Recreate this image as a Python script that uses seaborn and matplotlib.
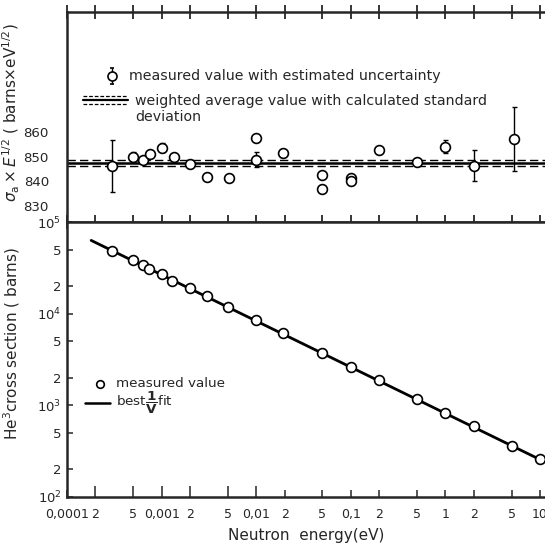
import numpy as np
import pandas as pd
import matplotlib
matplotlib.use("Agg")
import matplotlib.pyplot as plt
import seaborn as sns
from matplotlib.ticker import FixedLocator, FixedFormatter, NullLocator

# ---------------------------------------------------------------
# dati
# ---------------------------------------------------------------
# pannello alto: sigma_a * E^1/2 (barns x eV^1/2)
energia_alto = [3e-4, 5e-4, 6.4e-4, 7.6e-4, 1e-3, 1.35e-3, 2e-3, 3e-3, 5.2e-3,
                0.01, 0.01, 0.019, 0.05, 0.05, 0.1, 0.1, 0.2, 0.5, 1.0, 2.0, 5.3]
valore_alto = [846.3, 850.0, 848.7, 851.1, 853.7, 850.0, 847.3, 842.0, 841.5,
               857.5, 848.9, 851.4, 842.8, 837.1, 841.5, 840.0, 852.7, 848.0,
               854.1, 846.4, 857.4]
errore_alto = [10.5, 1.8, 0, 0, 1.8, 0, 0, 0, 0,
               0, 3.0, 0, 0, 1.2, 0, 1.0, 0, 1.0,
               2.6, 6.3, 13.0]

media_pesata = 847.5
dev_standard = 1.3

# pannello basso: sezione d'urto He3 (barns)
energia_basso = [3e-4, 5e-4, 6.3e-4, 7.4e-4, 1e-3, 1.3e-3, 2e-3, 3e-3, 5e-3,
                 0.01, 0.019, 0.05, 0.1, 0.2, 0.5, 1.0, 2.0, 5.0, 10.0]
sezione_basso = [48600, 38300, 34000, 30800, 27000, 23000, 19000, 15500, 11900,
                 8500, 6200, 3750, 2650, 1890, 1180, 830, 590, 360, 258]

# retta best 1/v fit (estremi)
energia_fit = [1.8e-4, 10.5]
sezione_fit = [63000, 250]

# etichette assi
tick_x_pos = [1e-4, 2e-4, 5e-4, 1e-3, 2e-3, 5e-3, 1e-2, 2e-2, 5e-2,
              0.1, 0.2, 0.5, 1, 2, 5, 10]
tick_x_lab = ["0,0001", "2", "5", "0,001", "2", "5", "0,01", "2", "5",
              "0,1", "2", "5", "1", "2", "5", "10"]
tick_y_alto = [830, 840, 850, 860]
tick_y_basso_pos = [1e2, 2e2, 5e2, 1e3, 2e3, 5e3, 1e4, 2e4, 5e4, 1e5]
tick_y_basso_lab = ["$10^2$", "2", "5", "$10^3$", "2", "5", "$10^4$", "2", "5", "$10^5$"]

df_alto = pd.DataFrame({"E": energia_alto, "val": valore_alto, "err": errore_alto})
df_basso = pd.DataFrame({"E": energia_basso, "sigma": sezione_basso})
df_fit = pd.DataFrame({"E": energia_fit, "sigma": sezione_fit})

# ---------------------------------------------------------------
# stile
# ---------------------------------------------------------------
sns.set_style("ticks")
plt.rcParams["font.family"] = ["DejaVu Sans"]
plt.rcParams["mathtext.fontset"] = "dejavusans"
plt.rcParams["axes.linewidth"] = 1.8

fig = plt.figure(figsize=(5.45, 5.45), dpi=100)
W, H = 545.0, 545.0
x0, x1 = 67.0, 545.0
ax1 = fig.add_axes([x0 / W, 1 - 222 / H, (x1 - x0) / W, 210 / H])
ax2 = fig.add_axes([x0 / W, 1 - 497 / H, (x1 - x0) / W, 275 / H], sharex=ax1)

for ax in (ax1, ax2):
    ax.set_xscale("log")
    ax.spines["right"].set_visible(False)
ax1.set_xlim(1e-4, 11.3)

# ---------------- pannello alto ----------------
ax1.set_ylim(823.5, 909)
for yy, st in [(media_pesata, "-"), (media_pesata + dev_standard, "--"),
               (media_pesata - dev_standard, "--")]:
    ax1.axhline(yy, color="black", lw=1.8 if st == "-" else 1.0, ls=st,
                dashes=(6, 3) if st == "--" else (None, None), zorder=1)

con_err = df_alto[df_alto["err"] > 0]
ax1.errorbar(con_err["E"], con_err["val"], yerr=con_err["err"], fmt="none",
             ecolor="black", elinewidth=1.0, capsize=1.8, capthick=1.0, zorder=2)
sns.scatterplot(data=df_alto, x="E", y="val", ax=ax1, marker="o", s=50,
                facecolor="white", edgecolor="black", linewidth=1.2, zorder=3,
                legend=False)

ax1.yaxis.set_major_locator(FixedLocator(tick_y_alto))
ax1.yaxis.set_minor_locator(NullLocator())
ax1.tick_params(axis="y", length=0, labelsize=9.6, pad=13)
ax1.tick_params(axis="x", which="major", bottom=True, top=True, direction="inout",
                length=10, width=1.3, labelbottom=False)
ax1.tick_params(axis="x", which="minor", bottom=True, top=True, direction="inout",
                length=6.5, width=1.1)
ax1.set_xlabel("")
ax1.set_ylabel(r"$\sigma_{\rm a}\times E^{1/2}$ ( barns$\times$eV$^{1/2}$)",
               fontsize=11)
ax1.yaxis.set_label_coords(-0.094, 0.52)

# legenda manuale alto
ax1.errorbar([0.094], [0.695], yerr=[0.04], fmt="o", ms=6.5, mfc="white", mec="black",
             mew=1.2, ecolor="black", elinewidth=1.0, capsize=1.5,
             transform=ax1.transAxes, clip_on=False)
ax1.text(0.130, 0.695, "measured value with estimated uncertainty",
         transform=ax1.transAxes, fontsize=10.2, va="center")
ax1.plot([0.033, 0.128], [0.581, 0.581], color="black", lw=1.6, transform=ax1.transAxes)
for yy in (0.598, 0.564):
    ax1.plot([0.033, 0.128], [yy, yy], color="black", lw=0.9, ls=(0, (3, 1.5)),
             transform=ax1.transAxes)
ax1.text(0.142, 0.540, "weighted average value with calculated standard\ndeviation",
         transform=ax1.transAxes, fontsize=10.2, va="center", linespacing=1.2)

# ---------------- pannello basso ----------------
sns.lineplot(data=df_fit, x="E", y="sigma", ax=ax2, color="black", lw=2.0, zorder=2)
sns.scatterplot(data=df_basso, x="E", y="sigma", ax=ax2, marker="o", s=50,
                facecolor="white", edgecolor="black", linewidth=1.2, zorder=3,
                legend=False)
ax2.set_yscale("log")
ax2.set_ylim(1e2, 1e5)

ax2.xaxis.set_major_locator(FixedLocator(tick_x_pos))
ax2.xaxis.set_major_formatter(FixedFormatter(tick_x_lab))
ax2.xaxis.set_minor_locator(NullLocator())
ax2.yaxis.set_major_locator(FixedLocator(tick_y_basso_pos))
ax2.yaxis.set_major_formatter(FixedFormatter(tick_y_basso_lab))
ax2.yaxis.set_minor_locator(NullLocator())
ax2.tick_params(axis="x", direction="in", length=5, width=1.1, top=False,
                labelsize=9, pad=8)
ax2.tick_params(axis="y", direction="in", length=4, width=1.1, labelsize=9.5, pad=4)
# tick lunghi alle decadi
for t in ax2.xaxis.get_major_ticks():
    if t.get_loc() in (1e-4, 1e-3, 1e-2, 1e-1, 1, 10):
        t.tick1line.set_markersize(8)

ax2.set_xlabel("Neutron  energy(eV)", fontsize=11, labelpad=5)
ax2.set_ylabel("He$^3$cross section ( barns)", fontsize=11)
ax2.yaxis.set_label_coords(-0.094, 0.56)

# legenda manuale basso
ax2.plot([0.069], [0.411], "o", ms=5.5, mfc="white", mec="black", mew=1.2,
         transform=ax2.transAxes)
ax2.text(0.1025, 0.411, "measured value", transform=ax2.transAxes,
         fontsize=9.7, va="center")
ax2.plot([0.038, 0.090], [0.343, 0.343], color="black", lw=1.8, transform=ax2.transAxes)
ax2.text(0.1025, 0.343, r"best$\dfrac{\mathbf{1}}{\mathbf{V}}$fit", transform=ax2.transAxes,
         fontsize=9.7, va="center")

fig.savefig("out.png", dpi=100)
